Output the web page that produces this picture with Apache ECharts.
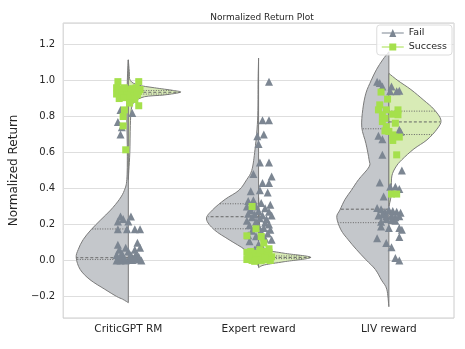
<!DOCTYPE html>
<html>
<head>
<meta charset="utf-8">
<script src="https://cdn.jsdelivr.net/npm/echarts@6/dist/echarts.min.js"></script>
<style>
  html, body { margin: 0; padding: 0; background: #fff; }
  #chart { width: 465px; height: 349px; }
</style>
</head>
<body>
<div id="chart"></div>
<script>
// categories
const categories = ['CriticGPT RM', 'Expert reward', 'LIV reward'];

// violin density profiles, [value, density] from top to bottom (scaled to width per half)
const failCritic = [[1.115,0],[1.0,1],[0.8,1.5],[0.6,1],[0.45,1.5],[0.39,4],[0.34,9],[0.28,18],[0.226,28],[0.17,38],[0.115,46],[0.06,51],[0.015,53],[-0.05,49],[-0.107,39],[-0.16,24],[-0.2,12],[-0.215,6],[-0.228,2],[-0.235,0]];
const failExpert = [[1.125,0],[1.0,0.5],[0.78,1],[0.6,4],[0.5,7],[0.45,12],[0.39,20],[0.34,34],[0.28,47],[0.23,53],[0.17,45],[0.115,30],[0.06,14],[0.004,4],[-0.035,0]];
const failLiv = [[1.16,0],[1.115,6],[1.06,12],[1.0,17],[0.93,22],[0.84,25],[0.74,26],[0.65,22],[0.56,19],[0.52,19],[0.45,29],[0.39,36],[0.34,42],[0.28,47],[0.24,50],[0.17,46],[0.115,39],[0.06,31],[0.004,22],[-0.05,13],[-0.11,7],[-0.16,2],[-0.257,0]];
const successCritic = [[1.115,0],[1.05,1],[1.0,2],[0.975,10],[0.96,26],[0.945,45],[0.935,52],[0.92,36],[0.91,16],[0.88,6],[0.84,3],[0.75,2],[0.6,1.5],[0.5,0.5],[0.45,0]];
const successExpert = [[0.35,0],[0.2,1],[0.1,3],[0.06,8],[0.04,26],[0.017,53],[-0.007,26],[-0.025,6],[-0.04,0]];
const successLiv = [[1.04,0],[1.0,9],[0.95,22],[0.89,35],[0.84,45],[0.78,52],[0.73,48],[0.67,38],[0.62,25],[0.56,13],[0.52,7],[0.47,3],[0.4,2.5],[0.35,2],[0.3,0]];

// quartiles [q1, median, q3]
const failQuartiles = [[0.005, 0.015, 0.175], [0.176, 0.243, 0.315], [0.21, 0.285, 0.732]];
const successQuartiles = [[0.925, 0.935, 0.945], [0.01, 0.017, 0.025], [0.70, 0.77, 0.83]];

// points, [jitter, value]
const failPtsCritic = [[-0.06,0.837],[0.03,0.82],[-0.08,0.77],[-0.05,0.74],[-0.06,0.70],
  [-0.06,0.244],[0.02,0.244],[-0.08,0.217],[0,0.217],[-0.08,0.174],[-0.01,0.174],[0.05,0.174],[0.09,0.174],[-0.04,0.23],
  [-0.08,0.087],[0.07,0.098],[0.09,0.07],[0.05,0.06],[-0.07,0.06],[-0.02,0.07],[0,0.05],[-0.09,0.03],[-0.05,0.025],[0.02,0.03],
  [0.06,0.035],[0.08,0.02],[-0.08,0.01],[-0.03,0.008],[0.01,0.005],[0.04,0.01],[0.08,0.005],[-0.06,0],[-0.02,0],[0.03,0.002],
  [0.1,0],[-0.09,0],[0.05,0.015],[-0.05,0.04],[0.02,0.015]];
const successPtsCritic = [[-0.08,0.994],[0.08,0.994],[-0.09,0.96],[-0.06,0.955],[-0.03,0.96],[0,0.95],[0.03,0.955],[0.06,0.96],
  [0.09,0.95],[-0.08,0.94],[-0.05,0.935],[-0.02,0.94],[0.02,0.935],[0.05,0.93],[0.08,0.94],[-0.09,0.925],[-0.05,0.92],[-0.01,0.92],
  [0.04,0.915],[0.07,0.92],[-0.07,0.9],[-0.03,0.905],[0.01,0.9],[0.05,0.895],[0.01,0.875],[0.08,0.86],[-0.03,0.837],[-0.04,0.8],
  [-0.04,0.748],[-0.02,0.615]];
const failPtsExpert = [[0.08,0.994],[0.03,0.78],[0.08,0.78],[-0.01,0.69],[0.04,0.70],[0,0.647],[0.01,0.545],[0.08,0.545],
  [-0.04,0.48],[0.1,0.467],[0.03,0.43],[0.08,0.43],[-0.06,0.385],[0.07,0.378],[0.01,0.39],
  [-0.08,0.33],[-0.04,0.335],[0.02,0.32],[0.09,0.31],[-0.09,0.3],[-0.02,0.3],[0.05,0.29],[-0.06,0.28],[0,0.275],[0.08,0.27],
  [-0.08,0.26],[-0.03,0.255],[0.03,0.25],[0.1,0.25],[-0.05,0.24],[0.01,0.235],[0.06,0.23],[-0.09,0.22],[-0.02,0.215],[0.05,0.21],
  [0.08,0.2],[-0.07,0.195],[0,0.19],[0.04,0.18],[0.09,0.17],[-0.05,0.165],[0.02,0.16],[0.07,0.15],[-0.08,0.14],[-0.02,0.135],
  [0.05,0.12],[0.1,0.115],[-0.07,0.106],[0,0.09],[0.03,0.07],[-0.03,0.06]];
const successPtsExpert = [[-0.05,0.30],[-0.02,0.176],[-0.09,0.137],[0.02,0.133],[0.04,0.097],
  [-0.09,0.045],[-0.06,0.05],[-0.02,0.04],[0.02,0.045],[0.05,0.05],[0.08,0.045],[-0.08,0.025],[-0.04,0.02],[0,0.025],[0.03,0.02],
  [0.07,0.03],[0.1,0.02],[-0.09,0.005],[-0.05,0],[-0.02,0.005],[0.02,0],[0.06,0.005],[0.09,0],[-0.07,0.015],[0.05,0.012],
  [-0.03,-0.005],[0.01,0.06],[0.08,0.065]];
const failPtsLiv = [[-0.09,0.994],[-0.07,0.986],[0.02,0.967],[-0.05,0.967],[0.08,0.944],[0.01,0.94],[0.06,0.94],
  [0.08,0.726],[0.09,0.715],[-0.08,0.693],[-0.05,0.674],[-0.05,0.587],[0.1,0.5],[-0.07,0.433],[0.01,0.41],[0.05,0.41],[0.08,0.397],
  [-0.04,0.356],[-0.09,0.291],[-0.06,0.285],[-0.03,0.27],[0,0.28],[0.03,0.275],[0.06,0.27],[0.09,0.265],[-0.08,0.25],[-0.05,0.255],
  [-0.02,0.245],[0.02,0.25],[0.05,0.24],[0.08,0.245],[-0.02,0.23],[0.02,0.225],[-0.06,0.215],[0.05,0.22],[-0.06,0.189],[0,0.18],
  [0.08,0.18],[0.1,0.17],[-0.09,0.124],[0.08,0.13],[-0.02,0.097],[0.02,0.074],[0.05,0.013],[0.08,0]];
const successPtsLiv = [[-0.06,0.936],[-0.01,0.897],[-0.07,0.865],[-0.08,0.837],[-0.02,0.837],[0.07,0.837],[0.03,0.813],[-0.05,0.81],
  [-0.05,0.772],[0.05,0.763],[-0.02,0.744],[0,0.717],[-0.03,0.72],[0.03,0.698],[0.08,0.686],[0.03,0.667],[0.06,0.587],
  [0.02,0.369],[0.06,0.369],[-0.03,0.79],[0.07,0.81]];

const failProfiles = [failCritic, failExpert, failLiv];
const successProfiles = [successCritic, successExpert, successLiv];
const failPoints = [failPtsCritic, failPtsExpert, failPtsLiv];
const successPoints = [successPtsCritic, successPtsExpert, successPtsLiv];

const halfWidth = 0.4;

function widthAt(prof, v) {
  const max = Math.max(...prof.map(p => p[1]));
  for (let i = 0; i < prof.length - 1; i++) {
    const a = prof[i], b = prof[i + 1];
    if (v <= a[0] && v >= b[0]) {
      const t = (a[0] - v) / (a[0] - b[0]);
      return (a[1] + t * (b[1] - a[1])) / max;
    }
  }
  return 0;
}

// smooth outline through the profile points (catmull-rom -> bezier)
function smoothPath(pts, cx, dir) {
  const clampX = x => (dir < 0 ? Math.min(x, cx) : Math.max(x, cx));
  let d = 'M' + pts[0][0] + ',' + pts[0][1];
  for (let i = 0; i < pts.length - 1; i++) {
    const p0 = pts[Math.max(i - 1, 0)], p1 = pts[i], p2 = pts[i + 1], p3 = pts[Math.min(i + 2, pts.length - 1)];
    const c1x = clampX(p1[0] + (p2[0] - p0[0]) / 6), c1y = p1[1] + (p2[1] - p0[1]) / 6;
    const c2x = clampX(p2[0] - (p3[0] - p1[0]) / 6), c2y = p2[1] - (p3[1] - p1[1]) / 6;
    d += 'C' + c1x + ',' + c1y + ',' + c2x + ',' + c2y + ',' + p2[0] + ',' + p2[1];
  }
  return d;
}

function renderViolin(params, api) {
  const cat = api.value(0);
  const side = api.value(1);
  const prof = side === 0 ? failProfiles[cat] : successProfiles[cat];
  const quart = side === 0 ? failQuartiles[cat] : successQuartiles[cat];
  const dir = side === 0 ? -1 : 1;
  const max = Math.max(...prof.map(p => p[1]));
  const cx = api.coord([cat, 0])[0];
  const pts = prof.map(p => api.coord([cat + dir * halfWidth * p[1] / max, p[0]]));
  const d = smoothPath(pts, cx, dir) + 'Z';
  const children = [{
    type: 'path',
    shape: { pathData: d },
    style: {
      fill: side === 0 ? '#c4c7cb' : '#d8ebb6',
      stroke: '#7a7a7a',
      lineWidth: 1
    }
  }];
  quart.forEach((q, i) => {
    const w = widthAt(prof, q) * halfWidth;
    const p1 = api.coord([cat, q]);
    const p2 = api.coord([cat + dir * w, q]);
    children.push({
      type: 'line',
      shape: { x1: p1[0], y1: p1[1], x2: p2[0], y2: p2[1] },
      style: {
        stroke: '#666',
        lineWidth: 1,
        lineDash: i === 1 ? [3, 2] : [1, 1.5]
      }
    });
  });
  return { type: 'group', children: children };
}

const violinData = [];
categories.forEach((c, i) => { violinData.push([i, 0]); violinData.push([i, 1]); });

const failData = [];
const successData = [];
categories.forEach((c, i) => {
  failPoints[i].forEach(p => failData.push([i + p[0], p[1]]));
  successPoints[i].forEach(p => successData.push([i + p[0], p[1]]));
});

const chart = echarts.init(document.getElementById('chart'));
chart.setOption({
  animation: false,
  textStyle: { fontFamily: 'DejaVu Sans' },
  title: {
    text: 'Normalized Return Plot',
    left: 257,
    textAlign: 'center',
    top: 8,
    textStyle: { fontSize: 9, fontWeight: 'normal', color: '#262626', fontFamily: 'DejaVu Sans' }
  },
  legend: {
    right: 13,
    top: 25,
    orient: 'vertical',
    itemGap: 4,
    itemWidth: 22,
    itemHeight: 8,
    padding: [3, 5],
    borderColor: '#dcdcdc',
    borderWidth: 1,
    borderRadius: 3,
    backgroundColor: 'rgba(255,255,255,0.8)',
    textStyle: { fontSize: 9.5, color: '#262626', fontFamily: 'DejaVu Sans' },
    data: [
      { name: 'Fail', icon: 'path://M0,4.4H22V5.6H0Z M7.5,9L11,1L14.5,9Z' },
      { name: 'Success', icon: 'path://M0,4.4H22V5.6H0Z M7.5,1.5H14.5V8.5H7.5Z' }
    ]
  },
  grid: {
    left: 60, right: 11, top: 23, bottom: 31,
    show: true, borderColor: '#cccccc', borderWidth: 1
  },
  xAxis: [{
    type: 'category',
    data: categories,
    axisLine: { show: false },
    axisTick: { show: false },
    splitLine: { show: false },
    axisLabel: { fontSize: 10.5, color: '#262626', margin: 6, fontFamily: 'DejaVu Sans' }
  }, {
    type: 'value',
    min: -0.5,
    max: 2.5,
    show: false
  }],
  yAxis: {
    type: 'value',
    min: -0.32,
    max: 1.32,
    splitNumber: 8,
    name: 'Normalized Return',
    nameLocation: 'middle',
    nameGap: 34,
    nameTextStyle: { fontSize: 12, color: '#262626', fontFamily: 'DejaVu Sans' },
    axisLine: { show: false },
    axisTick: { show: false },
    axisLabel: {
      fontSize: 10,
      color: '#262626',
      margin: 8,
      showMinLabel: false,
      showMaxLabel: false,
      fontFamily: 'DejaVu Sans',
      formatter: v => (v < -1e-9 ? '\u2212' : '') + Math.abs(v).toFixed(1)
    },
    splitLine: { lineStyle: { color: '#dedede', width: 1 } }
  },
  series: [{
    type: 'custom',
    name: 'violins',
    xAxisIndex: 1,
    renderItem: renderViolin,
    data: violinData,
    silent: true
  }, {
    type: 'scatter',
    name: 'Fail',
    xAxisIndex: 1,
    symbol: 'triangle',
    symbolSize: 8,
    itemStyle: { color: '#7c8692', opacity: 1 },
    data: failData
  }, {
    type: 'scatter',
    name: 'Success',
    xAxisIndex: 1,
    symbol: 'rect',
    symbolSize: 7,
    itemStyle: { color: '#a5e04c', opacity: 1 },
    data: successData
  }]
});
</script>
</body>
</html>
